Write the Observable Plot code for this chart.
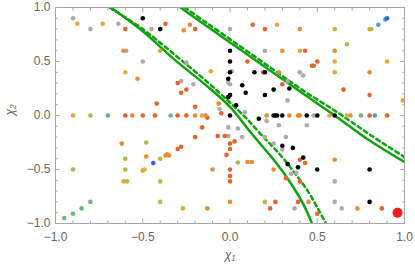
<!DOCTYPE html>
<html><head><meta charset="utf-8">
<script src="https://cdn.jsdelivr.net/npm/d3@7"></script>
<script src="https://cdn.jsdelivr.net/npm/@observablehq/plot@0.6"></script>
<style>body{margin:0;background:#fff}</style>
</head><body><div id="chart"></div>
<script>
// ---- data ----
const greyPts = [[-0.9,0.9],[-0.8,0.8],[-0.64,0.85],[-0.595,0.6],[-0.5,0.5],[-0.45,0.8],[-0.25,0.49],[-0.28,0.32],[-0.21,0.29],[0,0.8],[0.2,0.6],[0.4,0.4],[0.42,0.37],[0.01,0.41],[-0.01,0.31],[0,0.29],[0.33,0.32],[0.33,0.14],[-0.06,0.06],[0.085,0.03],[0.21,-0.05],[0.28,-0.09],[0.44,-0.09],[-0.01,-0.11],[0.045,-0.12],[0.48,0],[-0.01,-0.19],[0.07,-0.2],[0.2,-0.2],[0.25,-0.26],[0.32,-0.2],[0.3,-0.315],[0.35,-0.54],[0.38,-0.53],[0.6,-0.61],[0.6,-0.8],[0.64,-0.86],[0.37,-0.86]];
const orangeRedPts = [[-0.6,0.8],[-0.37,0.85],[-0.2,0.8],[-0.42,0.11],[-0.3,0.3],[-0.28,0.21],[-0.25,0.24],[-0.2,0.08],[-0.16,-0.11],[-0.2,-0.2],[-0.13,-0.02],[-0.05,0.02],[-0.07,-0.19],[-0.03,-0.19],[0,-0.26],[0.026,-0.24],[0,-0.31],[-0.02,-0.365],[0,-0.5],[0,-0.56],[0,-0.61],[0.13,0.84],[0.2,0.8],[0.43,0.6],[0.1,0.5],[0.47,0.46],[0.48,0.46],[0.5,0.5],[0.19,0.4],[0.3,0.29],[0.65,0.24],[0.8,0.19],[0.8,0],[0.9,0],[0.4,-0.41],[0.43,-0.44],[0.32,-0.58],[0.4,-0.61],[0.39,-0.8],[0.26,-0.8],[0.23,-0.86],[0.5,-0.91],[0.87,-0.86],[-0.6,0],[-0.5,0],[-0.43,0],[-0.3,0],[-0.25,0],[-0.3,-0.31],[-0.28,-0.29]];
const orangePts = [[-0.53,0.34],[-0.56,0],[-0.61,0.6],[-0.265,0.79],[-0.23,0.84],[-0.62,-0.26],[-0.48,-0.38],[-0.37,-0.37],[-0.35,-0.37],[-0.36,-0.36],[-0.1,-0.5],[0,-0.8],[-0.13,-0.86],[-0.14,0],[0.4,0.8],[0.3,0.6],[0.28,0.4],[0.8,0.4],[0.21,0],[0.34,0],[0.39,0],[0.4,0],[0.69,0],[0.6,-0.41],[0.25,-0.5],[0.45,-0.8],[0.73,-0.86],[0.1,-0.43],[0.125,-0.43],[-0.065,0.11],[0.6,0.6],[-0.2,0]];
const amberPts = [[-0.875,0.85],[-0.4,0.6],[0.27,0.84],[0.4,0.6],[0.6,0.5],[-0.27,-0.86],[-0.5,-0.51],[-0.49,-0.5],[0.57,0],[0.99,0.14],[-0.11,0.41],[0.9,0.5],[-0.9,0],[-0.16,0]];
const olivePts = [[-0.73,0.85],[-0.6,0.4],[0.6,0.8],[0.8,0.8],[0.81,0.8],[0.6,0.4],[-0.4,-0.4],[-0.6,-0.5],[-0.61,-0.61],[-0.59,-0.61],[-0.4,-0.61],[-0.4,-0.8],[0.67,0]];
const yellowGreenPts = [[-0.8,0],[0.67,0.66],[-0.48,-0.25],[-0.6,-0.4],[-0.9,-0.5],[0.045,-0.435],[0.2,-0.8]];
const greenPts = [[-0.7,0],[-0.34,0],[0.75,0],[-0.8,-0.8],[-0.85,-0.86],[-0.9,-0.91],[-0.95,-0.95]];
const tealPts = [[0.83,0],[0.85,0.84],[0.89,0.89]];
const bluePts = [[0.9,0.9],[-0.44,-0.44]];
const blackPts = [[-0.5,0.9],[-0.4,0.8],[0,0.6],[0,0.5],[0,0.4],[-0.01,0.34],[0.07,0.28],[0.09,0.21],[0.14,0.4],[0.2,0.4],[0.25,0.24],[0.2,0.19],[0.34,0.25],[0,0.19],[-0.01,0.17],[0.035,0.095],[0,0],[0.165,-0.03],[0.25,0],[0.26,0],[0.27,0],[0.3,0],[0.44,0],[0.5,0],[0.6,0],[0.3,-0.28],[0.36,-0.3],[0.42,-0.39],[0.33,-0.45],[0.39,-0.48],[0.5,-0.5],[0.8,-0.5],[0.8,-0.8]];
const highlightPt = [[0.96,-0.9]];

const catNames  = ["grey","orangeRed","orange","amber","olive","yellowGreen","green","teal","blue","black"];
const catColors = ["#ababab","#e5622c","#eb8a34","#e2a83a","#c9b33d","#a9b94c","#6db47a","#4ea2c6","#3a5fd2","#000000"];
const catPoints = [greyPts,orangeRedPts,orangePts,amberPts,olivePts,yellowGreenPts,greenPts,tealPts,bluePts,blackPts];

// green curves
const upperSolidX  = [-0.284,-0.14,0.05,0.24,0.43,0.6,0.78,1.0];
const upperSolidY  = [1,0.835,0.62,0.405,0.19,0.0,-0.21,-0.43];
const upperDashedX = [-0.26,-0.14,0.05,0.24,0.43,0.62,0.8,1.0];
const upperDashedY = [1,0.865,0.65,0.435,0.22,0.025,-0.175,-0.385];
const lowerSolidX  = [-0.683,-0.5,-0.32,-0.13,0.0,0.12,0.24,0.32,0.42,0.47];
const lowerSolidY  = [1,0.78,0.52,0.27,0.08,-0.16,-0.39,-0.56,-0.82,-1.0];
const lowerDashedX = [-0.69,-0.5,-0.3,-0.13,0.0,0.09,0.18,0.28,0.37,0.45,0.51,0.55];
const lowerDashedY = [1,0.8,0.54,0.31,0.12,-0.02,-0.18,-0.35,-0.53,-0.71,-0.88,-1.0];

const majorTicks = [-1,-0.5,0,0.5,1];
const minorTicks = [-0.9,-0.8,-0.7,-0.6,-0.4,-0.3,-0.2,-0.1,0.1,0.2,0.3,0.4,0.6,0.7,0.8,0.9];
const xLabel = "χ₁", yLabel = "χ₂";

// ---- build tables ----
const points = catNames.flatMap((c, i) => catPoints[i].map(([x, y]) => ({x, y, cat: c})));
const toRows = (xs, ys) => xs.map((x, i) => ({x, y: ys[i]}));
const curves = [
  {rows: toRows(upperSolidX, upperSolidY), dash: null},
  {rows: toRows(upperDashedX, upperDashedY), dash: "4,3.5"},
  {rows: toRows(lowerSolidX, lowerSolidY), dash: null},
  {rows: toRows(lowerDashedX, lowerDashedY), dash: "4,3.5"}
];
const fmt = d3.format(".1f");
const frameColor = "#a6a6a6", textColor = "#666666", lineColor = "#0ea20e";

const tickAxes = [];
for (const anchor of ["bottom","top"]) {
  tickAxes.push(Plot.axisX(minorTicks, {anchor, tickSize: -2.5, tickFormat: () => "", stroke: frameColor, label: null}));
  tickAxes.push(Plot.axisX(majorTicks, {anchor, tickSize: -4.5, tickFormat: () => "", stroke: frameColor, label: null}));
}
for (const anchor of ["left","right"]) {
  tickAxes.push(Plot.axisY(minorTicks, {anchor, tickSize: -2.5, tickFormat: () => "", stroke: frameColor, label: null}));
  tickAxes.push(Plot.axisY(majorTicks, {anchor, tickSize: -4.5, tickFormat: () => "", stroke: frameColor, label: null}));
}

const plot = Plot.plot({
  width: 415, height: 268,
  marginLeft: 55, marginRight: 11, marginTop: 7, marginBottom: 45,
  style: {fontFamily: "'Liberation Sans', Arial, sans-serif", fontSize: "12px", background: "#fff"},
  x: {domain: [-1, 1]},
  y: {domain: [-1, 1]},
  color: {domain: catNames, range: catColors},
  marks: [
    ...curves.map(c => Plot.line(c.rows, {x: "x", y: "y", stroke: lineColor, strokeWidth: 2.5, strokeDasharray: c.dash, curve: "catmull-rom", clip: true})),
    Plot.dot(points, {x: "x", y: "y", fill: "cat", r: 2.3}),
    Plot.dot(highlightPt, {x: d => d[0], y: d => d[1], fill: "#ff1a1a", r: 5}),
    Plot.frame({stroke: frameColor}),
    ...tickAxes,
    Plot.axisX(majorTicks, {anchor: "bottom", tickSize: 0, tickPadding: 9, tickFormat: fmt, fill: textColor, fontSize: 12, label: null}),
    Plot.axisY(majorTicks, {anchor: "left", tickSize: 0, tickPadding: 5, tickFormat: fmt, fill: textColor, fontSize: 12, label: null}),
    Plot.text([xLabel], {frameAnchor: "bottom", dy: 35, fill: textColor, fontSize: 12, fontStyle: "italic"}),
    Plot.text([yLabel], {frameAnchor: "left", dx: -45, rotate: -90, fill: textColor, fontSize: 12, fontStyle: "italic"})
  ]
});
document.getElementById("chart").appendChild(plot);
</script>
</body></html>
